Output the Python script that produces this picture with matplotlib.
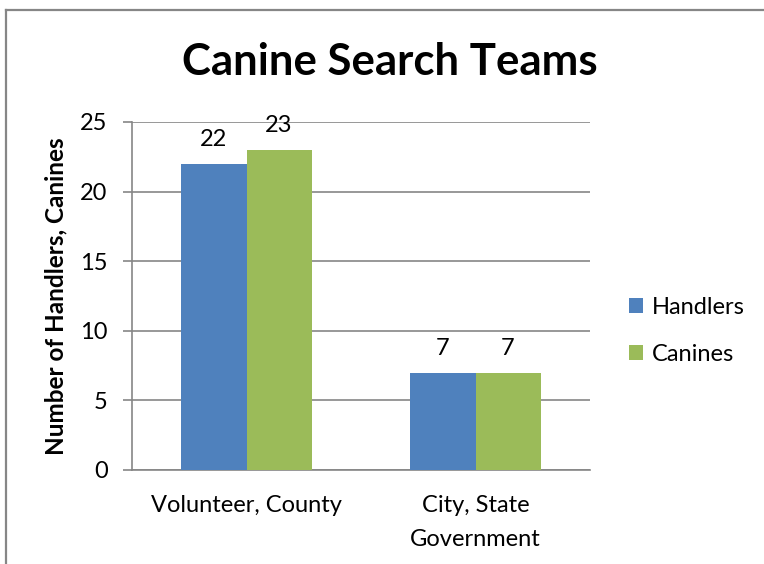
import numpy as np
import matplotlib
matplotlib.use("Agg")
import matplotlib.pyplot as plt
from matplotlib.lines import Line2D

# Chart data
categories = ["Volunteer, County", "City, State\nGovernment"]
handlers = [22, 7]
canines = [23, 7]
series_names = ["Handlers", "Canines"]
y_ticks = [0, 5, 10, 15, 20, 25]

BLUE = "#4F81BD"
GREEN = "#9BBB59"
GRAY = "#868686"

plt.rcParams['font.family'] = ['Lato', 'DejaVu Sans']

W, H = 764, 564
fig = plt.figure(figsize=(W / 100, H / 100), dpi=100)
fig.patch.set_facecolor("white")

# outer chart frame (left and top edges visible)
fig.add_artist(Line2D([6 / W, 6 / W], [0, 1 - 10 / H], color=GRAY, lw=1.6, transform=fig.transFigure))
fig.add_artist(Line2D([6 / W, 1], [1 - 10 / H, 1 - 10 / H], color=GRAY, lw=1.6, transform=fig.transFigure))

ax = fig.add_axes([132 / W, 1 - 470 / H, (590 - 132) / W, (470 - 122) / H])

x = np.arange(len(categories))
bw = 0.284
b1 = ax.bar(x - bw / 2, handlers, bw, color=BLUE, label=series_names[0], zorder=3)
b2 = ax.bar(x + bw / 2, canines, bw, color=GREEN, label=series_names[1], zorder=3)
ax.bar_label(b1, fontsize=17, padding=10)
ax.bar_label(b2, fontsize=17, padding=10)

ax.set_xlim(-0.5, 1.5)
ax.set_ylim(0, 25)
ax.set_yticks(y_ticks)
ax.yaxis.grid(True, color=GRAY, lw=1.2, zorder=0)
ax.set_axisbelow(True)
for s in ["top", "right"]:
    ax.spines[s].set_visible(False)
ax.spines["left"].set_color(GRAY)
ax.spines["bottom"].set_color(GRAY)
ax.spines["left"].set_linewidth(1.2)
ax.spines["bottom"].set_linewidth(1.2)
ax.tick_params(axis="y", colors=GRAY, labelcolor="black", labelsize=17, length=6.5, width=1.2, pad=11)
ax.tick_params(axis="x", length=0, labelsize=17, pad=18)
ax.set_xticks(x)
ax.set_xticklabels(categories, linespacing=1.75)

ax.set_ylabel("Number of Handlers, Canines", fontsize=17.5, fontweight="bold")
ax.yaxis.set_label_coords(-0.142, 0.5)

fig.text(390 / W, 1 - 62 / H, "Canine Search Teams", fontsize=31.5, fontweight="bold",
         ha="center", va="center")

ax.legend(loc="center left", bbox_to_anchor=(629 / W, 1 - 331 / H), bbox_transform=fig.transFigure,
          frameon=False, fontsize=17, handlelength=0.6, handleheight=0.6,
          handletextpad=0.35, labelspacing=1.12, borderpad=0, borderaxespad=0)

fig.savefig("out.png", dpi=100, facecolor="white")
